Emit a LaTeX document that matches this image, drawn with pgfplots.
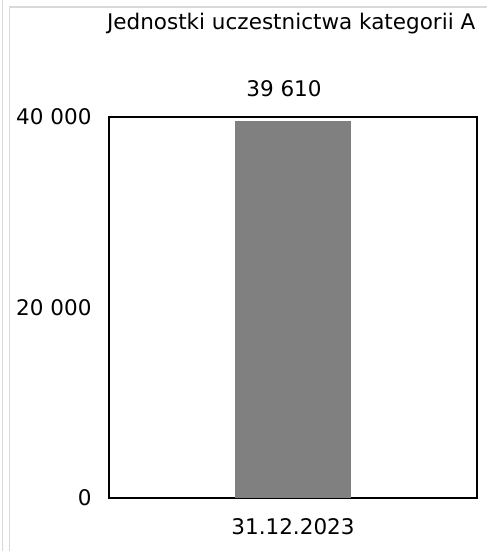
\documentclass[border=0pt]{standalone}
\usepackage{fontspec}
\setmainfont{DejaVu Sans}
\usepackage{pgfplots}
\pgfplotsset{compat=1.18}
\definecolor{framegray}{RGB}{217,217,217}
\definecolor{bargray}{RGB}{128,128,128}
\begin{document}
\begin{tikzpicture}[x=1bp,y=1bp]
\useasboundingbox (0,0) rectangle (487,551);
\draw[framegray, line width=1.2bp] (2.5,0) -- (2.5,551);
\draw[framegray, line width=1.2bp] (9.5,0) -- (9.5,544) -- (487,544);
\begin{axis}[
  at={(109bp,53bp)}, anchor=south west,
  width=368bp, height=381bp, scale only axis,
  xmin=0, xmax=1, ymin=0, ymax=40000,
  axis line style={line width=1.3bp, black},
  major tick length=0,
  scaled y ticks=false,
  xtick={0.5}, xticklabels={31.12.2023},
  ytick={0,20000,40000}, yticklabels={0,20 000,40 000},
  font=\fontsize{21.6}{25}\selectfont,
  xticklabel style={anchor=base, yshift=-37bp},
  yticklabel style={anchor=east, xshift=-14bp},
  title={Jednostki uczestnictwa kategorii A},
  title style={at={(0.495,1)}, anchor=base, yshift=82bp},
  ybar, bar width=116bp, bar shift=0pt,
  nodes near coords={39 610},
  every node near coord/.append style={anchor=base, yshift=24bp, xshift=-9bp},
  clip=false,
]
\addplot[fill=bargray, draw=none] coordinates {(0.5,39610)};
\end{axis}
\end{tikzpicture}
\end{document}
